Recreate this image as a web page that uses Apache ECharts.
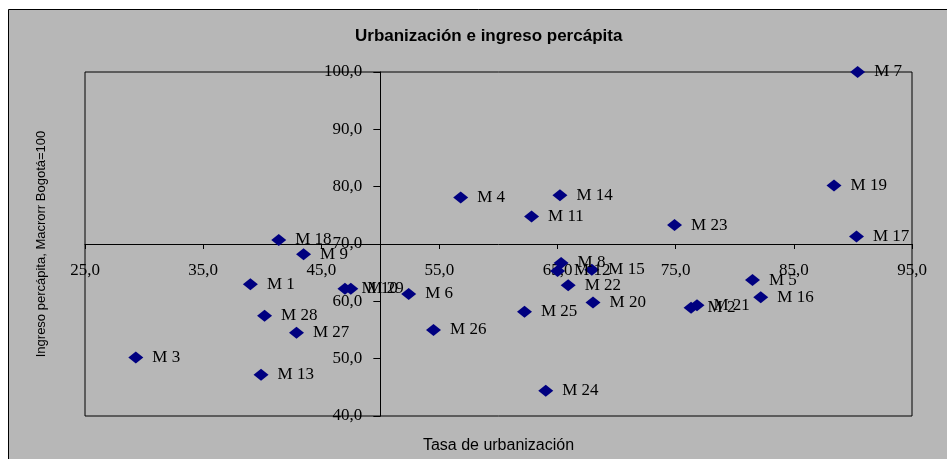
<!DOCTYPE html>
<html>
<head>
<meta charset="utf-8">
<title>Urbanización e ingreso percápita</title>
<script src="https://cdn.jsdelivr.net/npm/echarts@6/dist/echarts.min.js"></script>
<style>
  html, body { margin: 0; padding: 0; background: #fff; }
  #chart { width: 947px; height: 459px; }
</style>
</head>
<body>
<div id="chart"></div>
<script>
// municipios (etiquetas de cada punto)
const municipios = ['M 1', 'M 2', 'M 3', 'M 4', 'M 5', 'M 6', 'M 7', 'M 8', 'M 9', 'M 10',
  'M 11', 'M 12', 'M 13', 'M 14', 'M 15', 'M 16', 'M 17', 'M 18', 'M 19', 'M 20',
  'M 21', 'M 22', 'M 23', 'M 24', 'M 25', 'M 26', 'M 27', 'M 28', 'M 29'];
// tasa de urbanizacion (eje x)
const urbanizacion = [39.0, 76.3, 29.3, 56.8, 81.5, 52.4, 90.4, 65.3, 43.5, 47.0,
  62.8, 65.0, 39.9, 65.2, 67.9, 82.2, 90.3, 41.4, 88.4, 68.0,
  76.8, 65.9, 74.9, 64.0, 62.2, 54.5, 42.9, 40.2, 47.5];
// ingreso percapita, Bogota=100 (eje y)
const ingreso = [63.0, 58.9, 50.2, 78.1, 63.7, 61.3, 100.0, 66.7, 68.2, 62.2,
  74.8, 65.3, 47.2, 78.5, 65.5, 60.7, 71.3, 70.7, 80.2, 59.8,
  59.3, 62.8, 73.3, 44.4, 58.2, 55.0, 54.5, 57.5, 62.2];

const xMin = 25, xMax = 95, xStep = 10, xCross = 50;
const yMin = 40, yMax = 100, yStep = 10, yCross = 70;

const chart = echarts.init(document.getElementById('chart'));

const gridLeft = 85, gridRight = 35, gridTop = 72, gridBottom = 43;
const gridW = 947 - gridLeft - gridRight;
const gridH = 459 - gridTop - gridBottom;

const fmt = (v) => v.toFixed(1).replace('.', ',');
const puntos = municipios.map((m, i) => [urbanizacion[i], ingreso[i], m]);

const option = {
  animation: false,
  graphic: [{
    type: 'rect',
    z: -10,
    silent: true,
    shape: { x: 8.5, y: 9.5, width: 960, height: 470 },
    style: { fill: '#b7b7b7', stroke: '#000', lineWidth: 1 }
  }],
  title: {
    text: 'Urbanización e ingreso percápita',
    left: 350,
    top: 23,
    textStyle: {
      fontFamily: 'Liberation Sans',
      fontWeight: 'bold',
      fontSize: 17,
      color: '#000'
    }
  },
  grid: {
    left: gridLeft,
    right: gridRight,
    top: gridTop,
    bottom: gridBottom,
    show: true,
    borderColor: '#000',
    borderWidth: 1,
    backgroundColor: 'transparent'
  },
  xAxis: {
    type: 'value',
    min: xMin,
    max: xMax,
    interval: xStep,
    // el eje x cruza en y = 70
    offset: -gridH * (yCross - yMin) / (yMax - yMin),
    name: 'Tasa de urbanización',
    nameLocation: 'middle',
    nameGap: 194,
    nameTextStyle: { fontFamily: 'Liberation Sans', fontSize: 16, color: '#000' },
    axisLine: { onZero: false, lineStyle: { color: '#000', width: 1 } },
    axisTick: { length: 5, lineStyle: { color: '#000' } },
    axisLabel: {
      margin: 18,
      formatter: fmt,
      fontFamily: 'Liberation Serif',
      fontSize: 17,
      color: '#000'
    },
    splitLine: { show: false }
  },
  yAxis: {
    type: 'value',
    min: yMin,
    max: yMax,
    interval: yStep,
    // el eje y cruza en x = 50
    offset: -gridW * (xCross - xMin) / (xMax - xMin),
    name: 'Ingreso percápita, Macrorr Bogotá=100',
    nameLocation: 'middle',
    nameGap: 332,
    nameTextStyle: { fontFamily: 'Liberation Sans', fontSize: 13, color: '#000' },
    axisLine: { onZero: false, lineStyle: { color: '#000', width: 1 } },
    axisTick: { length: 7, lineStyle: { color: '#000' } },
    axisLabel: {
      margin: 18,
      formatter: fmt,
      fontFamily: 'Liberation Serif',
      fontSize: 17,
      color: '#000'
    },
    splitLine: { show: false }
  },
  series: [{
    type: 'scatter',
    symbol: 'diamond',
    symbolSize: [15, 12],
    itemStyle: { color: '#000080', opacity: 1 },
    label: {
      show: true,
      position: 'right',
      distance: 9,
      formatter: (p) => p.data[2],
      fontFamily: 'Liberation Serif',
      fontSize: 17,
      color: '#000'
    },
    emphasis: { disabled: true },
    data: puntos
  }]
};

chart.setOption(option);
</script>
</body>
</html>
